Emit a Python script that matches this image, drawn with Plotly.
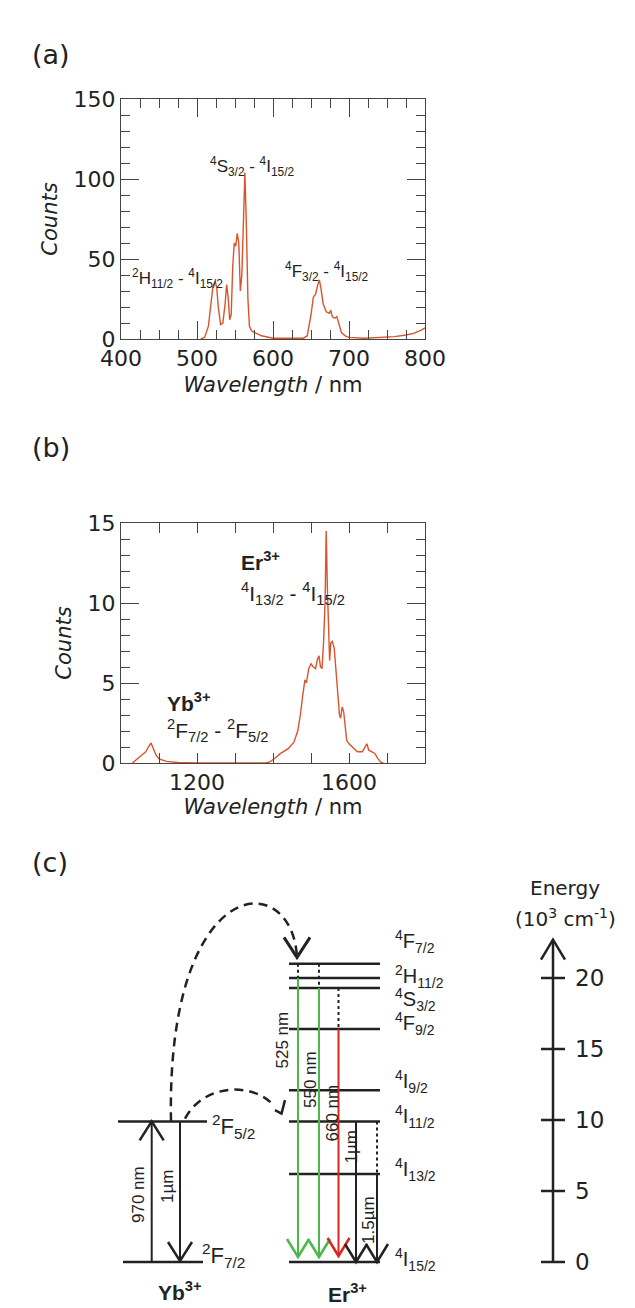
import plotly.graph_objects as go

# ---------------- data ----------------
# (a) visible up-conversion spectrum
wl_a = [505, 510, 515, 518, 521, 524, 526, 528, 531, 534, 537, 539, 541, 543, 545, 547,
        549, 551, 553, 555, 557, 559, 561, 563, 565, 567, 569, 572, 576, 585, 600, 620,
        640, 645, 650, 653, 656, 659, 661, 663, 666, 670, 674, 676, 678, 681, 684, 687,
        690, 695, 700, 720, 740, 760, 775, 785, 795, 800]
counts_a = [0, 1, 8, 22, 33, 36, 32, 20, 9, 10, 22, 34, 26, 12, 15, 45,
            60, 58, 66, 60, 30, 40, 80, 104, 70, 25, 8, 5, 4, 2, 0.5, 0.3,
            0.5, 2, 15, 26, 28, 34, 37, 32, 22, 17, 16, 18, 14, 13, 14, 9,
            4, 2, 1, 0.5, 1, 1.5, 2.5, 3.5, 5.5, 7]

# (b) NIR spectrum
wl_b = [1030, 1040, 1055, 1065, 1072, 1079, 1085, 1092, 1100, 1120, 1150, 1200, 1380,
        1390, 1405, 1420, 1440, 1455, 1465, 1472, 1478, 1484, 1488, 1494, 1500, 1506,
        1512, 1517, 1521, 1525, 1529, 1533, 1537, 1540, 1543, 1546, 1549, 1552, 1556,
        1561, 1565, 1570, 1575, 1578, 1582, 1586, 1590, 1594, 1600, 1610, 1622, 1635,
        1643, 1647, 1652, 1660, 1668, 1675, 1684, 1690]
counts_b = [0, 0.2, 0.5, 0.7, 1.0, 1.25, 0.9, 0.5, 0.25, 0.1, 0.03, 0, 0,
            0.05, 0.3, 0.6, 0.9, 1.3, 2.0, 3.0, 4.2, 5.2, 5.0, 5.9, 6.2, 6.0,
            5.9, 6.5, 6.7, 6.0, 5.9, 7.5, 10, 14.5, 11, 8.5, 6.4, 7.5, 7.6,
            7.2, 6.0, 4.0, 3.0, 2.8, 3.5, 3.2, 2.2, 1.4, 1.2, 1.0, 0.7, 0.7,
            1.0, 1.2, 0.8, 0.7, 0.6, 0.3, 0.05, 0]

# (c) energy levels (10^3 cm^-1)
er_names = ["<sup>4</sup>I<sub>15/2</sub>", "<sup>4</sup>I<sub>13/2</sub>",
            "<sup>4</sup>I<sub>11/2</sub>", "<sup>4</sup>I<sub>9/2</sub>",
            "<sup>4</sup>F<sub>9/2</sub>", "<sup>4</sup>S<sub>3/2</sub>",
            "<sup>2</sup>H<sub>11/2</sub>", "<sup>4</sup>F<sub>7/2</sub>"]
er_E = [0, 6.2, 9.9, 12.1, 16.4, 19.3, 20.0, 21.0]
yb_names = ["<sup>2</sup>F<sub>7/2</sub>", "<sup>2</sup>F<sub>5/2</sub>"]
yb_E = [0, 9.9]
energy_ticks = [0, 5, 10, 15, 20]
energy_top = 22.7

# Er emissions: dotted (non-radiative) from -> emitting level -> ground
er_tr_labels = ["525 nm", "550 nm", "660 nm", "1\u00b5m", "1.5\u00b5m"]
er_tr_from = [21.0, 21.0, 19.3, 9.9, 9.9]
er_tr_emit = [20.0, 19.3, 16.4, 9.9, 6.2]
yb_tr_labels = ["970 nm", "1\u00b5m"]

# ---------------- layout helpers ----------------
W, H = 635, 1308
PX0, PXE = 1262.0, 14.2        # panel (c): pixel row of E=0, px per 10^3 cm^-1
Y3_TOP, Y3_BOT = 850.0, 1308.0
E_lo = (PX0 - Y3_BOT) / PXE
E_hi = (PX0 - Y3_TOP) / PXE


def E_of(py):
    return (PX0 - py) / PXE


def dE(px):
    return px / PXE


INK = "#222222"
GREEN = "#4cb848"
RED = "#d7261e"
SPEC = "#d9542c"
TICKFONT = dict(family="DejaVu Sans", size=22, color=INK)
LBLFONT = "Liberation Sans, Arial, sans-serif"

fig = go.Figure()
fig.add_trace(go.Scatter(x=wl_a, y=counts_a, mode="lines", xaxis="x", yaxis="y",
                         line=dict(color=SPEC, width=1.4), showlegend=False))
fig.add_trace(go.Scatter(x=wl_b, y=counts_b, mode="lines", xaxis="x2", yaxis="y2",
                         line=dict(color=SPEC, width=1.4), showlegend=False))
# invisible trace to create axes 3
fig.add_trace(go.Scatter(x=[0], y=[0], mode="markers", xaxis="x3", yaxis="y3",
                         marker=dict(opacity=0), showlegend=False, hoverinfo="skip"))

dom_x = [121 / W, 425 / W]
ax_common = dict(showline=True, linecolor="#444", linewidth=1, mirror="ticks",
                 ticks="inside", tickcolor="#444", tickwidth=1, showgrid=False,
                 zeroline=False, tickfont=TICKFONT, automargin=False)
TFONT = dict(family="DejaVu Sans", size=21, color=INK)

layout = dict(
    width=W, height=H, margin=dict(l=0, r=0, t=0, b=0, pad=0, autoexpand=False),
    paper_bgcolor="white", plot_bgcolor="white", showlegend=False,
    xaxis=dict(domain=dom_x, range=[400, 800], anchor="y", dtick=100, ticklen=18,
               minor=dict(dtick=25, ticklen=9, ticks="inside", tickcolor="#444"),
               title=dict(text="<i>Wavelength</i> / nm", font=TFONT, standoff=6),
               **ax_common),
    yaxis=dict(domain=[1 - 339 / H, 1 - 99 / H], range=[0, 150], anchor="x", dtick=50,
               ticklen=18, minor=dict(dtick=10, ticklen=9, ticks="inside", tickcolor="#444"),
               title=dict(text="<i>Counts</i>", font=TFONT, standoff=10),
               **ax_common),
    xaxis2=dict(domain=dom_x, range=[1000, 1800], anchor="y2", tickvals=[1200, 1600],
                ticklen=10, minor=dict(dtick=100, tick0=1000, ticklen=10, ticks="inside", tickcolor="#444"),
                title=dict(text="<i>Wavelength</i> / nm", font=TFONT, standoff=3),
                **ax_common),
    yaxis2=dict(domain=[1 - 763 / H, 1 - 523 / H], range=[0, 15], anchor="x2", dtick=5,
                ticklen=18, minor=dict(dtick=1, ticklen=9, ticks="inside", tickcolor="#444"),
                title=dict(text="<i>Counts</i>", font=TFONT, standoff=10),
                **ax_common),
    xaxis3=dict(domain=[0, 1], range=[0, W], anchor="y3", visible=False, fixedrange=True,
                automargin=False),
    yaxis3=dict(domain=[0, 1 - Y3_TOP / H], range=[E_lo, E_hi], anchor="x3", visible=False,
                fixedrange=True, automargin=False),
)
fig.update_layout(**layout)

ann = []
shapes = []

# panel letters
for txt, y in [("(a)", 37), ("(b)", 430), ("(c)", 863)]:
    ann.append(dict(text=txt, x=30 / W, y=1 - y / H, xref="paper", yref="paper",
                    showarrow=False, font=dict(family="DejaVu Sans", size=27, color=INK)))

# spectrum labels (a)
for txt, x, y in [("<sup>4</sup>S<sub>3/2</sub> - <sup>4</sup>I<sub>15/2</sub>", 573, 108),
                  ("<sup>2</sup>H<sub>11/2</sub> - <sup>4</sup>I<sub>15/2</sub>", 474, 38),
                  ("<sup>4</sup>F<sub>3/2</sub> - <sup>4</sup>I<sub>15/2</sub>", 671, 42)]:
    ann.append(dict(text=txt, x=x, y=y, xref="x", yref="y", showarrow=False,
                    font=dict(family=LBLFONT, size=17, color=INK)))

# spectrum labels (b)
for txt, x, y in [("<b>Er<sup>3+</sup></b>", 1310, 12.6),
                  ("<sup>4</sup>I<sub>13/2</sub> - <sup>4</sup>I<sub>15/2</sub>", 1310, 10.6),
                  ("<b>Yb<sup>3+</sup></b>", 1117, 3.8),
                  ("<sup>2</sup>F<sub>7/2</sub> - <sup>2</sup>F<sub>5/2</sub>", 1117, 2.05)]:
    ann.append(dict(text=txt, x=x, y=y, xref="x2", yref="y2", showarrow=False, xanchor="left",
                    font=dict(family=LBLFONT, size=21, color=INK)))

# ------------- panel (c) -------------
def line(x0, y0, x1, y1, color=INK, width=2.5, dash="solid"):
    shapes.append(dict(type="line", xref="x3", yref="y3", x0=x0, y0=y0, x1=x1, y1=y1,
                       line=dict(color=color, width=width, dash=dash)))


def vhead(x, ytip, up, color=INK, hw=11, hl=18, width=2.5):
    s = -1 if up else 1
    ya = ytip + s * dE(hl)
    shapes.append(dict(type="path", xref="x3", yref="y3",
                       path=f"M {x - hw},{ya} L {x},{ytip} L {x + hw},{ya}",
                       line=dict(color=color, width=width)))


# Er levels
er_x0, er_x1 = 289, 380
for e in er_E:
    line(er_x0, e, er_x1, e, width=2.5)
er_lbl_off = [0.2, 0.33, 0.33, 0.6, 0.4, -0.8, 0.1, 1.6]
for name, e, off in zip(er_names, er_E, er_lbl_off):
    ann.append(dict(text=name, x=393, y=e + off, xref="x3", yref="y3", xanchor="left",
                    showarrow=False, font=dict(family=LBLFONT, size=20, color=INK)))

# Yb levels
yb_x = [(123, 203), (118, 207)]
for (a, b), e in zip(yb_x, yb_E):
    line(a, e, b, e, width=2.5)
ann.append(dict(text=yb_names[1], x=210, y=yb_E[1] - 0.35, xref="x3", yref="y3", xanchor="left",
                showarrow=False, font=dict(family=LBLFONT, size=22, color=INK)))
ann.append(dict(text=yb_names[0], x=200, y=yb_E[0] + 0.45, xref="x3", yref="y3", xanchor="left",
                showarrow=False, font=dict(family=LBLFONT, size=22, color=INK)))

# Yb transitions
xa, xe = 151.7, 180
line(xa, yb_E[0], xa, yb_E[1], width=2)
vhead(xa, yb_E[1], True, hw=12, hl=19, width=2.5)
line(xe, yb_E[1], xe, yb_E[0] + dE(1), width=2)
vhead(xe, yb_E[0] + dE(1), False, hw=12, hl=19, width=2.5)
ann.append(dict(text=yb_tr_labels[0], x=138, y=E_of(1195), xref="x3", yref="y3", textangle=-90,
                showarrow=False, font=dict(family=LBLFONT, size=17, color=INK)))
ann.append(dict(text=yb_tr_labels[1], x=167, y=E_of(1187), xref="x3", yref="y3", textangle=-90,
                showarrow=False, font=dict(family=LBLFONT, size=17, color=INK)))

# Er transitions
tr_x = [298, 319, 338.5, 356, 377]
tr_col = [GREEN, GREEN, RED, INK, INK]
tr_tip = [dE(5), dE(5), dE(6), 0.0, 0.0]
tr_lbl_pos = [(281.5, 1040), (310, 1080), (331.5, 1113), (350.5, 1147), (368, 1220)]
for x, f, e, c, tip in zip(tr_x, er_tr_from, er_tr_emit, tr_col, tr_tip):
    if f > e:
        line(x, f, x, e, color=INK, width=2, dash="dot")
    line(x, e, x, tip, color=c, width=2)
    vhead(x, tip, False, color=c, hw=11, hl=18, width=2.5)
for txt, (x, y) in zip(er_tr_labels, tr_lbl_pos):
    ann.append(dict(text=txt, x=x, y=E_of(y), xref="x3", yref="y3", textangle=-90,
                    showarrow=False, font=dict(family=LBLFONT, size=17, color=INK)))

# energy transfer (dashed curves)
big_end = er_E[-1] + 0.45
shapes.append(dict(type="path", xref="x3", yref="y3",
                   path=f"M 171,{yb_E[1]} C 166,{yb_E[1] + 17.5} 292,{yb_E[1] + 18} 297,{big_end}",
                   line=dict(color=INK, width=2.5, dash="9px,6px")))
vhead(297, big_end, False, hw=13, hl=20, width=3)
small_y = yb_E[1] + 0.2
shapes.append(dict(type="path", xref="x3", yref="y3",
                   path=f"M 185,{small_y} C 205,{small_y + 2.6} 255,{small_y + 2.5} 274,{small_y + 0.9}",
                   line=dict(color=INK, width=2.5, dash="9px,6px")))
shapes.append(dict(type="path", xref="x3", yref="y3",
                   path=f"M 285,{small_y + 1.3} L 281.5,{small_y + 0.35} L 275,{small_y + 0.6}",
                   line=dict(color=INK, width=2.5)))

# ion labels
ann.append(dict(text="<b>Yb<sup>3+</sup></b>", x=180, y=E_of(1291), xref="x3", yref="y3",
                showarrow=False, font=dict(family=LBLFONT, size=21, color=INK)))
ann.append(dict(text="<b>Er<sup>3+</sup></b>", x=347, y=E_of(1293), xref="x3", yref="y3",
                showarrow=False, font=dict(family=LBLFONT, size=21, color=INK)))

# energy axis
ex = 553
line(ex, 0, ex, energy_top, width=2.5)
vhead(ex, energy_top, True, hw=12, hl=20, width=2.5)
for t in energy_ticks:
    line(ex - 12, t, ex + 12, t, width=2.5)
    ann.append(dict(text=str(t), x=573, y=t, xref="x3", yref="y3", xanchor="left",
                    showarrow=False, font=dict(family="DejaVu Sans", size=23, color=INK)))
ann.append(dict(text="Energy", x=565, y=E_of(888), xref="x3", yref="y3", showarrow=False,
                font=dict(family="DejaVu Sans", size=20, color=INK)))
ann.append(dict(text="(10<sup>3</sup> cm<sup>-1</sup>)", x=565, y=E_of(918), xref="x3", yref="y3",
                showarrow=False, font=dict(family="DejaVu Sans", size=20, color=INK)))

fig.update_layout(annotations=ann, shapes=shapes)
fig.write_html("out.html", config={"displayModeBar": False},
               post_script="document.body.style.margin='0px';document.body.style.overflow='hidden';")
